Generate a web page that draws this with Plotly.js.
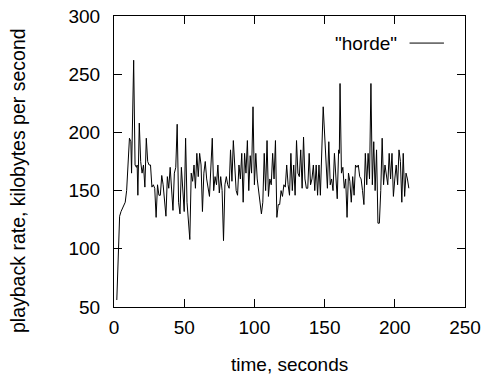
<!DOCTYPE html>
<html>
<head>
<meta charset="utf-8">
<script src="https://cdn.plot.ly/plotly-3.0.1.min.js"></script>
<style>html,body{margin:0;padding:0;background:#fff;}#chart{width:482px;height:379px;}</style>
</head>
<body>
<div id="chart"></div>
<script>
var seriesName = '"horde"';
var timeSeconds = [2,4,5,7,8,9,10,11,12,12.5,14,15,16,16.5,17,18,19,20,21,22,23,24,25,26,27,28,29,30,31,32,33,34,35,37,38,39,40,42,43,44,45,46,47,48,50,51,52,54,55,56,57,58,59,60,61,62,63,64,65,66,68,70,71,72,73,74,75,76,77,78,79,80,81,82,83,84,85,87,88,89,90,91,92,93,94,95,96,97,98,99,100,101,102,103,104,105,106,107,108,109,110,111,112,113,114,115,116,117,118,119,120,121,122,123,124,125,126,127,128,129,130,131,132,133,134,135,136,137,138,139,140,141,142,143,144,145,146,147,149,150,151,152,153,154,155,156,157,158,159,160,160.5,161,162,163,164,165,166,167,168,169,170,171,172,173,174,175,176,177,178,179,180,181,182,183,184,185,186,187,188,189,190,191,192,193,194,195,196,197,198,199,200,201,202,203,204,205,206,207,208,209,210];
var playbackRate = [56,128,132,138,140,150,180,195,192,165,262,172,170,172,146,208,175,165,172,153,195,175,172,172,153,155,152,127,155,146,146,163,155,128,162,152,170,133,165,170,207,140,130,170,132,195,140,108,165,158,172,152,182,162,182,172,132,165,175,160,145,195,150,162,155,172,148,162,150,107,155,162,155,152,185,158,193,150,146,172,160,182,140,182,165,193,150,180,165,222,155,182,160,150,138,130,140,182,150,193,145,160,155,182,160,193,127,138,138,150,145,155,153,172,155,146,182,150,172,146,193,165,162,185,152,196,160,152,152,182,155,160,172,150,172,146,172,146,222,195,170,152,192,155,160,150,182,160,143,185,182,242,165,170,152,160,127,165,158,140,162,146,172,170,172,162,160,150,138,182,155,182,160,242,155,192,150,185,122,122,150,195,155,172,165,155,182,160,182,145,160,172,155,185,175,140,182,145,165,160,152,158];
var xTicks = [0,50,100,150,200,250];
var yTicks = [50,100,150,200,250,300];
var xTitle = 'time, seconds';
var yTitle = 'playback rate, kilobytes per second';

var font = 'Liberation Sans, Arial, sans-serif';
var fs = 19;
var trace = {
  x: timeSeconds, y: playbackRate, type: 'scatter', mode: 'lines',
  name: seriesName, line: {color: '#000', width: 1}, showlegend: false
};
var axisCommon = {
  showgrid: false, zeroline: false, showline: true, linecolor: '#000', linewidth: 1,
  mirror: 'ticks', ticks: 'inside', ticklen: 8, tickcolor: '#000', tickwidth: 1,
  tickfont: {family: font, size: fs, color: '#000'}
};
var layout = {
  width: 482, height: 379,
  margin: {l: 114, r: 17, t: 16, b: 72},
  paper_bgcolor: '#fff', plot_bgcolor: '#fff',
  xaxis: Object.assign({}, axisCommon, {
    range: [0, 250], tickvals: xTicks, ticktext: xTicks.map(String), ticklabelstandoff: 3
  }),
  yaxis: Object.assign({}, axisCommon, {
    range: [50, 300], tickvals: yTicks, ticktext: yTicks.map(String), ticklabelstandoff: 9
  }),
  annotations: [{
    xref: 'paper', yref: 'paper', x: 0.812, y: 0.907, xanchor: 'right', yanchor: 'middle',
    text: seriesName, showarrow: false, font: {family: font, size: fs, color: '#000'}
  }, {
    xref: 'paper', yref: 'paper', x: 0.5, y: -0.199, xanchor: 'center', yanchor: 'middle',
    text: xTitle, showarrow: false, font: {family: font, size: fs, color: '#000'}
  }, {
    xref: 'paper', yref: 'paper', x: -0.2735, y: 0.433, xanchor: 'center', yanchor: 'middle',
    text: yTitle, textangle: -90, showarrow: false, font: {family: font, size: 19.5, color: '#000'}
  }],
  shapes: [{
    type: 'line', xref: 'paper', yref: 'paper', x0: 0.842, x1: 0.94, y0: 0.907, y1: 0.907,
    line: {color: '#000', width: 1}
  }]
};
Plotly.newPlot('chart', [trace], layout, {staticPlot: true, displayModeBar: false});
</script>
</body>
</html>
